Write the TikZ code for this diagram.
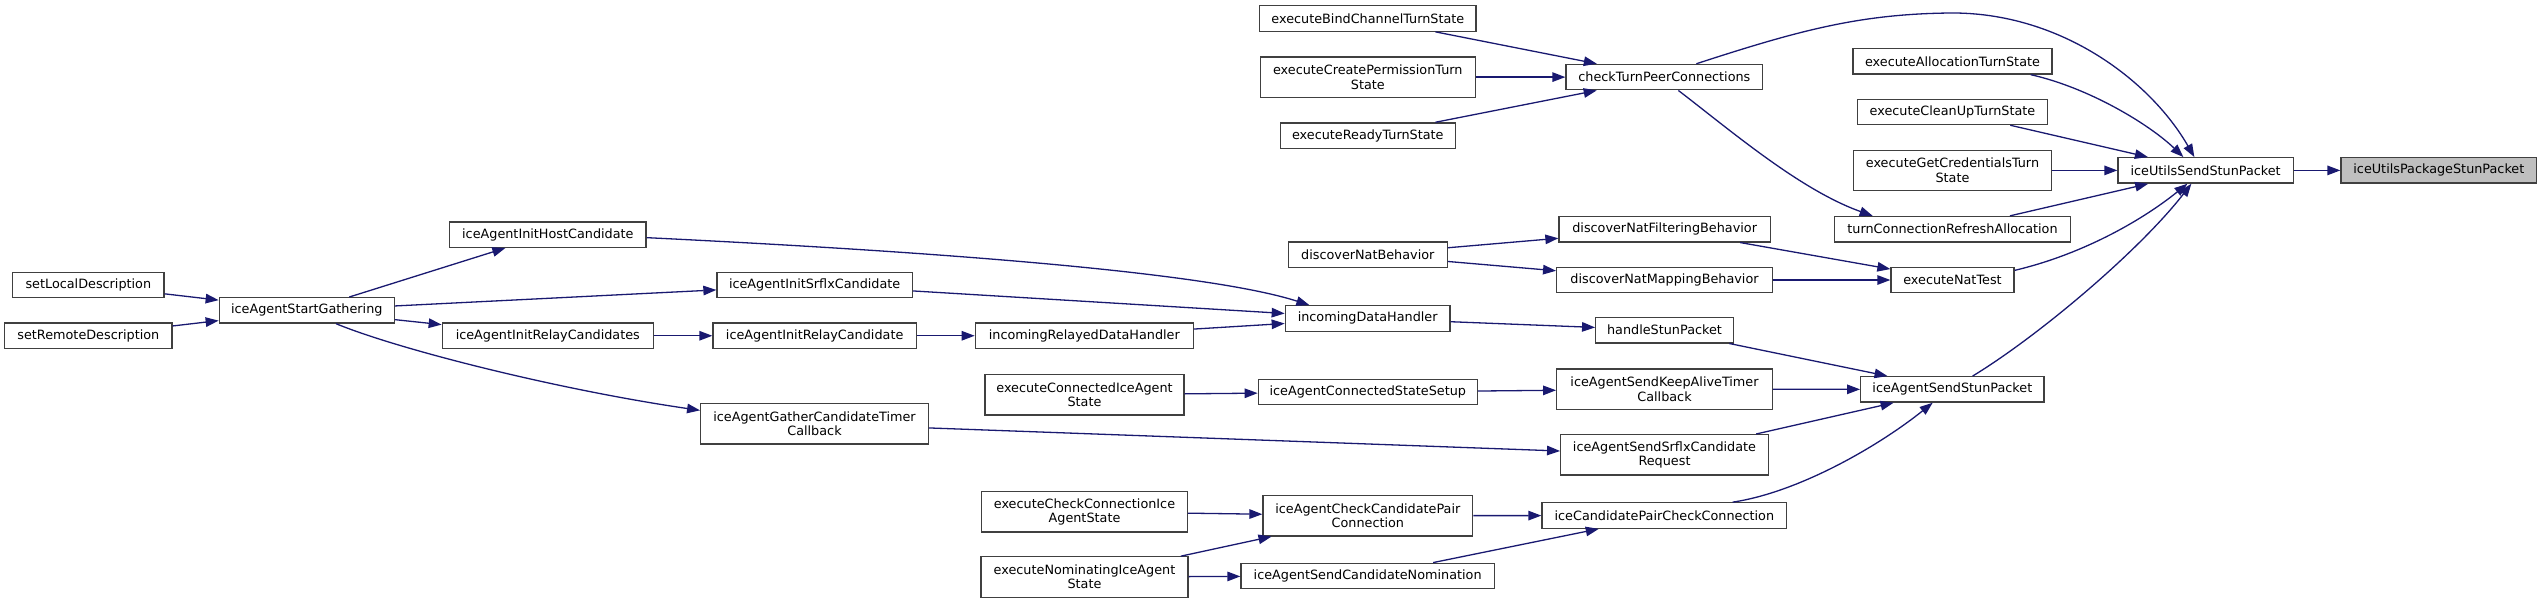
\documentclass[tikz,border=0pt]{standalone}
\usepackage{fontspec}
\setmainfont{DejaVu Sans}
\usetikzlibrary{arrows.meta}
\definecolor{edgeblue}{HTML}{191970}
\definecolor{boxgray}{HTML}{404040}
\definecolor{rootfill}{HTML}{BFBFBF}
\tikzset{
  fn/.style={draw=boxgray, fill=white, line width=1.3pt, inner sep=0pt,
    minimum height=25.4pt, font=\fontsize{12.8}{14.4}\selectfont, align=center},
  fntwo/.style={fn, minimum height=40.4pt},
  call/.style={draw=edgeblue, line width=1.3pt, -{Triangle[length=13pt,width=9.5pt]}, edgeblue},
}
\begin{document}
\begin{tikzpicture}[x=1pt,y=-1pt]
\useasboundingbox (0,0) rectangle (2541,603);
% column 1
\node[fn, minimum width=151.3pt] (sld) at (88.35,285) {setLocalDescription};
\node[fn, minimum width=167.3pt] (srd) at (88.35,335.75) {setRemoteDescription};
% column 2
\node[fn, minimum width=175pt] (sg) at (306.8,310.35) {iceAgentStartGathering};
% column 3
\node[fn, minimum width=196.3pt] (hc) at (547.85,234.65) {iceAgentInitHostCandidate};
\node[fn, minimum width=211pt] (rcs) at (547.8,335.75) {iceAgentInitRelayCandidates};
% column 4
\node[fn, minimum width=195.3pt] (srflx) at (814.65,285) {iceAgentInitSrflxCandidate};
\node[fn, minimum width=203.3pt] (rc) at (814.65,335.75) {iceAgentInitRelayCandidate};
\node[fntwo, minimum width=227.6pt] (gct) at (814.5,423.8) {iceAgentGatherCandidateTimer\\Callback};
% column 5
\node[fn, minimum width=218pt] (ird) at (1084.3,335.75) {incomingRelayedDataHandler};
\node[fntwo, minimum width=199pt] (ecs) at (1084.5,394.8) {executeConnectedIceAgent\\State};
\node[fntwo, minimum width=205.6pt] (ecc) at (1084.5,511.7) {executeCheckConnectionIce\\AgentState};
\node[fntwo, minimum width=207pt] (eni) at (1084.5,577) {executeNominatingIceAgent\\State};
% column 6
\node[fn, minimum width=216.3pt] (ebc) at (1367.85,18.5) {executeBindChannelTurnState};
\node[fntwo, minimum width=215pt] (ecp) at (1367.8,77.1) {executeCreatePermissionTurn\\State};
\node[fn, minimum width=175pt] (ert) at (1367.8,135.6) {executeReadyTurnState};
\node[fn, minimum width=159pt] (dnb) at (1367.8,254.6) {discoverNatBehavior};
\node[fn, minimum width=164.7pt] (idh) at (1367.65,318.45) {incomingDataHandler};
\node[fn, minimum width=219pt] (icss) at (1367.8,392.1) {iceAgentConnectedStateSetup};
\node[fntwo, minimum width=209.7pt] (iccp) at (1367.85,515.7) {iceAgentCheckCandidatePair\\Connection};
\node[fn, minimum width=253.3pt] (iscn) at (1367.65,575.9) {iceAgentSendCandidateNomination};
% column 7
\node[fn, minimum width=196.7pt] (ctp) at (1664.35,77.1) {checkTurnPeerConnections};
\node[fn, minimum width=211.3pt] (dnf) at (1664.65,229.2) {discoverNatFilteringBehavior};
\node[fn, minimum width=215.6pt] (dnm) at (1664.5,280) {discoverNatMappingBehavior};
\node[fn, minimum width=137.6pt] (hsp) at (1664.5,330.15) {handleStunPacket};
\node[fntwo, minimum width=215.6pt] (skat) at (1664.5,389.2) {iceAgentSendKeepAliveTimer\\Callback};
\node[fntwo, minimum width=207.6pt] (ssr) at (1664.5,454.8) {iceAgentSendSrflxCandidate\\Request};
\node[fn, minimum width=244.7pt] (cpcc) at (1664.35,515.5) {iceCandidatePairCheckConnection};
% column 8
\node[fn, minimum width=199pt] (eat) at (1952.5,61.3) {executeAllocationTurnState};
\node[fn, minimum width=189.6pt] (ecu) at (1952.5,111.9) {executeCleanUpTurnState};
\node[fntwo, minimum width=197.6pt] (egc) at (1952.5,170.4) {executeGetCredentialsTurn\\State};
\node[fn, minimum width=236.4pt] (tcr) at (1952.5,229.2) {turnConnectionRefreshAllocation};
\node[fn, minimum width=123pt] (ent) at (1952.5,280) {executeNatTest};
\node[fn, minimum width=183.3pt] (asp) at (1952.35,389.4) {iceAgentSendStunPacket};
% column 9, 10
\node[fn, minimum width=175.3pt] (usp) at (2205.65,170.4) {iceUtilsSendStunPacket};
\node[fn, minimum width=195.7pt, fill=rootfill] (upk) at (2438.85,170.4) {iceUtilsPackageStunPacket};

% straight edges
\draw[call] (sld) -- (sg);
\draw[call] (srd) -- (sg);
\draw[call] (sg) -- (hc);
\draw[call] (sg) -- (srflx);
\draw[call] (sg) -- (rcs);
\draw[call] (rcs) -- (rc);
\draw[call] (rc) -- (ird);
\draw[call] (srflx) -- (idh);
\draw[call] (ird) -- (idh);
\draw[call] (idh) -- (hsp);
\draw[call] (gct) -- (ssr);
\draw[call] (ecs) -- (icss);
\draw[call] (icss) -- (skat);
\draw[call] (ecc) -- (iccp);
\draw[call] (eni) -- (iccp);
\draw[call] (eni) -- (iscn);
\draw[call] (iccp) -- (cpcc);
\draw[call] (iscn) -- (cpcc);
\draw[call] (ebc) -- (ctp);
\draw[call] (ecp) -- (ctp);
\draw[call] (ert) -- (ctp);
\draw[call] (dnb) -- (dnf);
\draw[call] (dnb) -- (dnm);
\draw[call] (dnf) -- (ent);
\draw[call] (dnm) -- (ent);
\draw[call] (hsp) -- (asp);
\draw[call] (skat) -- (asp);
\draw[call] (ssr) -- (asp);
\draw[call] (ecu) -- (usp);
\draw[call] (egc) -- (usp);
\draw[call] (tcr) -- (usp);
\draw[call] (usp) -- (upk);

% curved edges
\draw[call] ([xshift=117.4pt]sg.south west) .. controls (400,350) and (560,390) .. ([yshift=-7.4pt]gct.north west);
\draw[call] ([yshift=-3pt]hc.east) .. controls (900,250) and (1200,270) .. ([xshift=24.7pt]idh.north west);
\draw[call] ([xshift=113pt]ctp.south west) .. controls (1730,130) and (1800,190) .. ([xshift=39pt]tcr.north west);
\draw[call] ([xshift=191.3pt]cpcc.north west) .. controls (1800,492) and (1880,445) .. ([xshift=72.6pt]asp.south west);
\draw[call] ([xshift=131pt]ctp.north west) .. controls (1800,30) and (1860,14) .. (1950,13) .. controls (2060,12) and (2150,80) .. ([xshift=77pt]usp.north west);
\draw[call] ([xshift=-22pt]eat.south east) .. controls (2090,88) and (2150,125) .. ([xshift=66pt]usp.north west);
\draw[call] ([yshift=-3.7pt]ent.north east) .. controls (2080,255) and (2140,222) .. ([xshift=70pt]usp.south west);
\draw[call] ([xshift=112.6pt]asp.north west) .. controls (2040,335) and (2140,250) .. ([xshift=74pt]usp.south west);
\end{tikzpicture}
\end{document}
